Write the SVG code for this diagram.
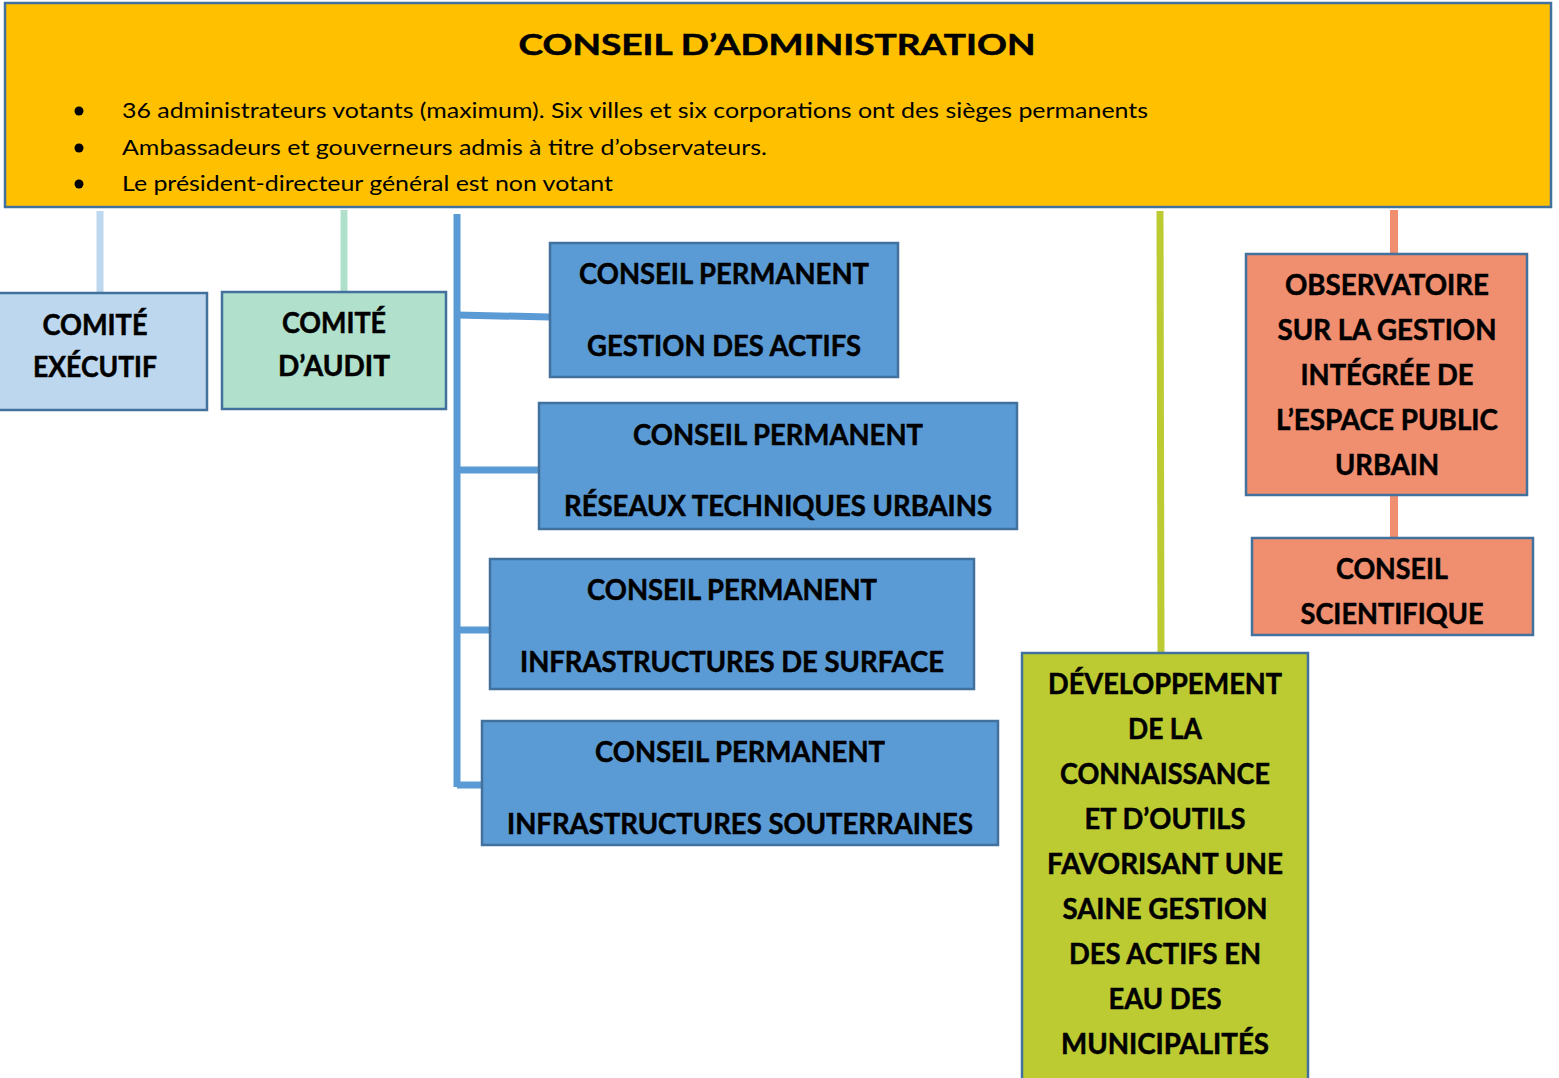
<svg xmlns="http://www.w3.org/2000/svg" width="1559" height="1078" viewBox="0 0 1559 1078">
<style>
.box{stroke:#41719C;stroke-width:2.5}
.t{font-family:Lato,"Liberation Sans",sans-serif;font-weight:700;font-size:28px;fill:#000;stroke:#000;stroke-width:0.5;text-anchor:middle}
.b{font-family:Lato,"Liberation Sans",sans-serif;font-size:21px;fill:#000}
.c{fill:none;stroke-width:7}
</style>
<rect width="1559" height="1078" fill="#fff"/>
<g id="connectors">
<line class="c" x1="100" y1="211" x2="100" y2="293" stroke="#BDD7EE"/>
<line class="c" x1="344" y1="210" x2="344" y2="292" stroke="#B0E0CC"/>
<path class="c" d="M457 214 V787" stroke="#5B9BD5"/>
<path class="c" d="M457 315 L550 317 M457 470 H539 M457 630 H490 M457 785 H482" stroke="#5B9BD5"/>
<line class="c" x1="1160" y1="211" x2="1161" y2="653" stroke="#BDCB33"/>
<line x1="1394" y1="210" x2="1394" y2="254" stroke="#F08E70" stroke-width="8"/>
<line x1="1394" y1="495" x2="1394" y2="538" stroke="#F08E70" stroke-width="8"/>
</g>
<g id="conseil-administration">
<rect class="box" x="5" y="3" width="1546" height="204" fill="#FFC000"/>
<text class="t" x="777" y="55" font-size="40" stroke-width="0.7" textLength="517" lengthAdjust="spacingAndGlyphs">CONSEIL D’ADMINISTRATION</text>
<circle cx="79" cy="111" r="4.5"/>
<circle cx="79" cy="148" r="4.5"/>
<circle cx="79" cy="184" r="4.5"/>
<text class="b" x="122" y="118" textLength="1026" lengthAdjust="spacingAndGlyphs">36 administrateurs votants (maximum). Six villes et six corporations ont des sièges permanents</text>
<text class="b" x="122" y="155" textLength="645" lengthAdjust="spacingAndGlyphs">Ambassadeurs et gouverneurs admis à titre d’observateurs.</text>
<text class="b" x="122" y="191" textLength="491" lengthAdjust="spacingAndGlyphs">Le président-directeur général est non votant</text>
</g>
<g id="comite-executif">
<rect class="box" x="-2" y="293" width="209" height="117" fill="#BDD7EE"/>
<text class="t" x="95" y="335" textLength="105" lengthAdjust="spacingAndGlyphs">COMITÉ</text>
<text class="t" x="95" y="377" textLength="124" lengthAdjust="spacingAndGlyphs">EXÉCUTIF</text>
</g>
<g id="comite-audit">
<rect class="box" x="222" y="292" width="224" height="117" fill="#B1E1CC"/>
<text class="t" x="334" y="333" textLength="104" lengthAdjust="spacingAndGlyphs">COMITÉ</text>
<text class="t" x="334" y="376" textLength="112" lengthAdjust="spacingAndGlyphs">D’AUDIT</text>
</g>
<g id="cp-gestion-actifs">
<rect class="box" x="550" y="243" width="348" height="134" fill="#5B9BD5"/>
<text class="t" x="724" y="284" textLength="290" lengthAdjust="spacingAndGlyphs">CONSEIL PERMANENT</text>
<text class="t" x="724" y="356" textLength="274" lengthAdjust="spacingAndGlyphs">GESTION DES ACTIFS</text>
</g>
<g id="cp-reseaux">
<rect class="box" x="539" y="403" width="478" height="126" fill="#5B9BD5"/>
<text class="t" x="778" y="445" textLength="290" lengthAdjust="spacingAndGlyphs">CONSEIL PERMANENT</text>
<text class="t" x="778" y="516" textLength="428" lengthAdjust="spacingAndGlyphs">RÉSEAUX TECHNIQUES URBAINS</text>
</g>
<g id="cp-surface">
<rect class="box" x="490" y="559" width="484" height="130" fill="#5B9BD5"/>
<text class="t" x="732" y="600" textLength="290" lengthAdjust="spacingAndGlyphs">CONSEIL PERMANENT</text>
<text class="t" x="732" y="672" textLength="424" lengthAdjust="spacingAndGlyphs">INFRASTRUCTURES DE SURFACE</text>
</g>
<g id="cp-souterraines">
<rect class="box" x="482" y="721" width="516" height="124" fill="#5B9BD5"/>
<text class="t" x="740" y="762" textLength="290" lengthAdjust="spacingAndGlyphs">CONSEIL PERMANENT</text>
<text class="t" x="740" y="834" textLength="466" lengthAdjust="spacingAndGlyphs">INFRASTRUCTURES SOUTERRAINES</text>
</g>
<g id="developpement">
<rect class="box" x="1022" y="653" width="286" height="428" fill="#BDCB33"/>
<text class="t" x="1165" y="694" textLength="234" lengthAdjust="spacingAndGlyphs">DÉVELOPPEMENT</text>
<text class="t" x="1165" y="739" textLength="74" lengthAdjust="spacingAndGlyphs">DE LA</text>
<text class="t" x="1165" y="784" textLength="210" lengthAdjust="spacingAndGlyphs">CONNAISSANCE</text>
<text class="t" x="1165" y="829" textLength="161" lengthAdjust="spacingAndGlyphs">ET D’OUTILS</text>
<text class="t" x="1165" y="874" textLength="236" lengthAdjust="spacingAndGlyphs">FAVORISANT UNE</text>
<text class="t" x="1165" y="919" textLength="205" lengthAdjust="spacingAndGlyphs">SAINE GESTION</text>
<text class="t" x="1165" y="964" textLength="192" lengthAdjust="spacingAndGlyphs">DES ACTIFS EN</text>
<text class="t" x="1165" y="1009" textLength="113" lengthAdjust="spacingAndGlyphs">EAU DES</text>
<text class="t" x="1165" y="1054" textLength="208" lengthAdjust="spacingAndGlyphs">MUNICIPALITÉS</text>
</g>
<g id="observatoire">
<rect class="box" x="1246" y="254" width="281" height="241" fill="#F08E70"/>
<text class="t" x="1387" y="295" textLength="204" lengthAdjust="spacingAndGlyphs">OBSERVATOIRE</text>
<text class="t" x="1387" y="340" textLength="219" lengthAdjust="spacingAndGlyphs">SUR LA GESTION</text>
<text class="t" x="1387" y="385" textLength="173" lengthAdjust="spacingAndGlyphs">INTÉGRÉE DE</text>
<text class="t" x="1387" y="430" textLength="222" lengthAdjust="spacingAndGlyphs">L’ESPACE PUBLIC</text>
<text class="t" x="1387" y="475" textLength="104" lengthAdjust="spacingAndGlyphs">URBAIN</text>
</g>
<g id="conseil-scientifique">
<rect class="box" x="1252" y="538" width="281" height="97" fill="#F08E70"/>
<text class="t" x="1392" y="579" textLength="112" lengthAdjust="spacingAndGlyphs">CONSEIL</text>
<text class="t" x="1392" y="624" textLength="183" lengthAdjust="spacingAndGlyphs">SCIENTIFIQUE</text>
</g>
</svg>
